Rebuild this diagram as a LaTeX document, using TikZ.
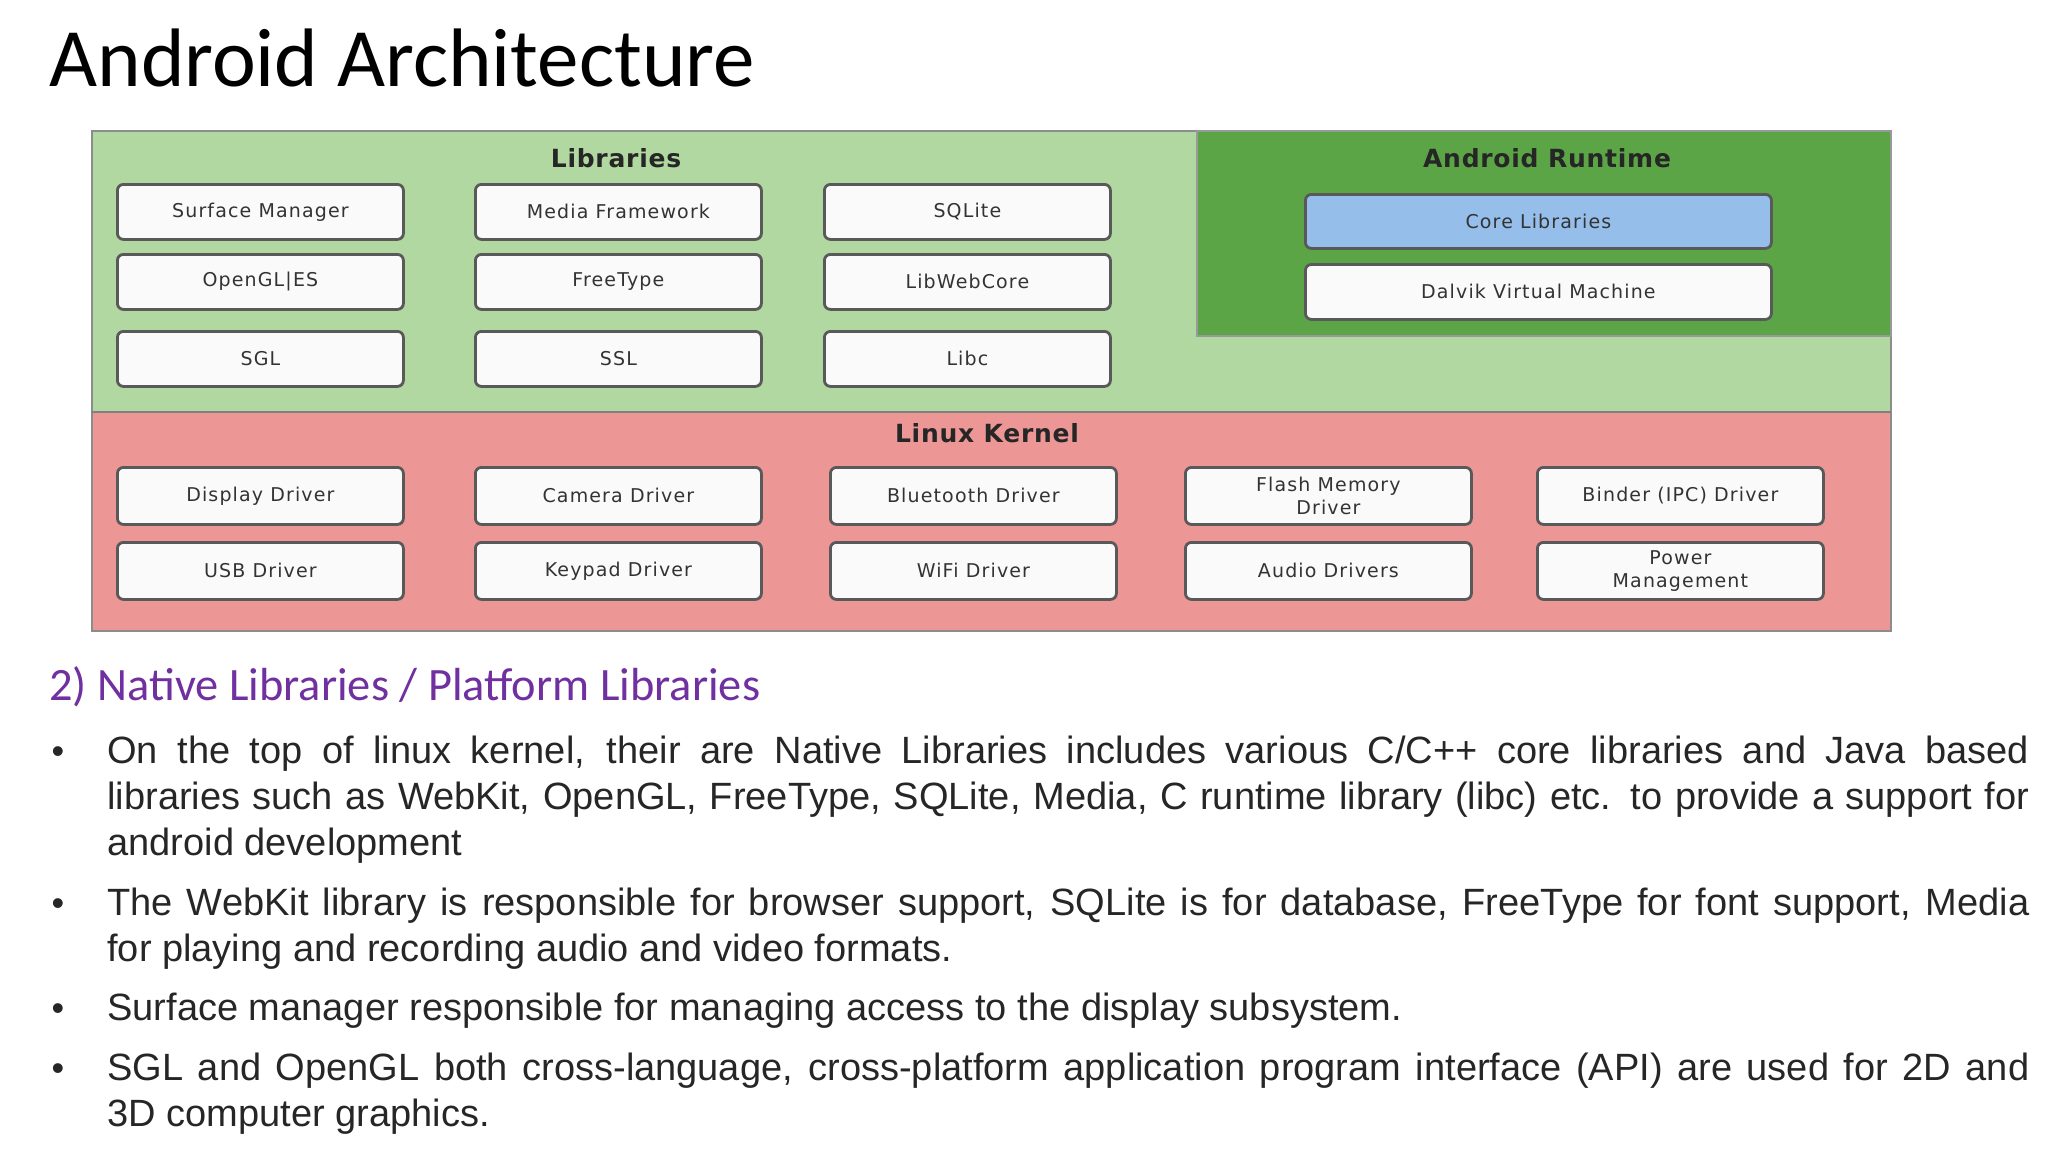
\documentclass[tikz,border=0pt]{standalone}
\usepackage{fontspec}
\setmainfont{Liberation Sans}
\newfontfamily\calfont{Carlito}
\newfontfamily\djfont[LetterSpace=6]{DejaVu Sans}
\newfontfamily\djbfont[LetterSpace=3]{DejaVu Sans}
\begin{document}
\begin{tikzpicture}[x=0.5pt,y=-0.5pt,
  box/.style={draw=black!65,line width=1.4pt,fill=white!96!gray,rounded corners=3pt,font=\djfont\fontsize{9.5}{11.5}\selectfont,text=black!80,align=center,inner sep=0pt,anchor=north west},
  lbl/.style={font=\djbfont\bfseries\fontsize{12.5}{13}\selectfont,text=black!85},
  bul/.style={anchor=north west,text width=961pt,align=justify,font=\fontsize{19}{23}\selectfont,inner sep=0pt,text=black!85}]
\useasboundingbox (0,0) rectangle (2048,1152);
\node[anchor=base west,inner sep=0pt,font=\calfont\fontsize{41.5}{44}\selectfont] (title) at (49,86) {Android Architecture};
% panels
\fill[fill={rgb,255:red,176;green,216;blue,160}] (92,131) rectangle (1891,412);
\fill[fill={rgb,255:red,236;green,150;blue,150}] (92,412) rectangle (1891,631);
\draw[black!45,line width=1pt] (92,131) rectangle (1891,631);
\draw[black!50,line width=1.2pt] (92,412) -- (1891,412);
\fill[fill={rgb,255:red,92;green,165;blue,70}] (1197,131) rectangle (1891,336);
\draw[draw=black!40,line width=1pt] (1197,131) rectangle (1891,336);
\node[lbl] (libs) at (616,158) {Libraries};
\node[lbl] (art) at (1547,158) {Android Runtime};
\node[lbl] (lk) at (987,433) {Linux Kernel};
% library boxes
\foreach \n/\t/\x/\y in {sm/Surface Manager/116/183, mf/Media Framework/474/183, sq/SQLite/823/183,
  og/OpenGL|ES/116/253, ft/FreeType/474/253, lw/LibWebCore/823/253,
  sg/SGL/116/330, ss/SSL/474/330, lc/Libc/823/330}
  \node[box,minimum width=143pt,minimum height=27.5pt] (\n) at (\x,\y) {\t};
\node[box,minimum width=233pt,minimum height=27pt,fill={rgb,255:red,150;green,190;blue,235}] (cl) at (1304,193) {Core Libraries};
\node[box,minimum width=233pt,minimum height=27.5pt] (dv) at (1304,263) {Dalvik Virtual Machine};
% kernel boxes
\foreach \n/\t/\x/\y in {dd/Display Driver/116/466, cd/Camera Driver/474/466, bd/Bluetooth Driver/829/466,
  fm/{Flash Memory\\Driver}/1184/466, bi/Binder (IPC) Driver/1536/466,
  ud/USB Driver/116/541, kd/Keypad Driver/474/541, wd/WiFi Driver/829/541,
  ad/Audio Drivers/1184/541, pm/{Power\\Management}/1536/541}
  \node[box,minimum width=143pt,minimum height=28.5pt] (\n) at (\x,\y) {\t};
% text
\node[anchor=base west,inner sep=0pt,font=\calfont\fontsize{23.2}{26}\selectfont,text={rgb,255:red,112;green,48;blue,160}] (h) at (49,700) {2) Native Libraries / Platform Libraries};
\foreach \n/\y in {b1/763,b2/915,b3/1020,b4/1080}
  \node[anchor=base,font=\fontsize{18}{23}\selectfont,inner sep=0pt,text=black!85] (\n) at (58,\y) {•};
\node[bul,anchor=base west] (p1) at (107,763) {\strut On the top of linux kernel, their are Native Libraries includes various C/C++ core libraries and Java based\linebreak libraries such as WebKit, OpenGL, FreeType, SQLite, Media, C runtime library (libc) etc. to provide a support for\linebreak android development};
\node[bul,anchor=base west] (p2) at (107,915) {\strut The WebKit library is responsible for browser support, SQLite is for database, FreeType for font support, Media\linebreak for playing and recording audio and video formats.};
\node[bul,anchor=base west] (p3) at (107,1020) {\strut Surface manager responsible for managing access to the display subsystem.};
\node[bul,anchor=base west] (p4) at (107,1080) {\strut SGL and OpenGL both cross-language, cross-platform application program interface (API) are used for 2D and\linebreak 3D computer graphics.};
\end{tikzpicture}
\end{document}
